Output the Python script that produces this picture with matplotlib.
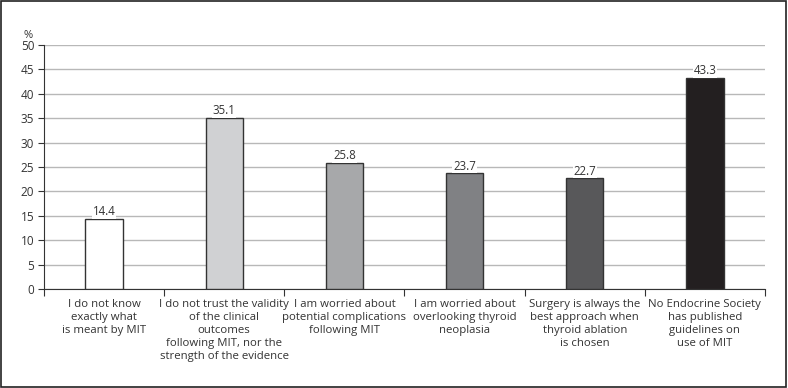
import matplotlib.pyplot as plt
from matplotlib.patches import Rectangle

plt.rcParams['font.family'] = ['Open Sans', 'DejaVu Sans']

categories = [
    'I do not know\nexactly what\nis meant by MIT',
    'I do not trust the validity\nof the clinical\noutcomes\nfollowing MIT, nor the\nstrength of the evidence',
    'I am worried about\npotential complications\nfollowing MIT',
    'I am worried about\noverlooking thyroid\nneoplasia',
    'Surgery is always the\nbest approach when\nthyroid ablation\nis chosen',
    'No Endocrine Society\nhas published\nguidelines on\nuse of MIT',
]
values = [14.4, 35.1, 25.8, 23.7, 22.7, 43.3]
bar_colors = ['#ffffff', '#d0d1d3', '#a7a8aa', '#808184', '#58585a', '#231f20']
yticks = [0, 5, 10, 15, 20, 25, 30, 35, 40, 45, 50]

fig = plt.figure(figsize=(7.88, 3.88), dpi=100)
ax = fig.add_axes([0.0558, 0.255, 0.915, 0.629])

x = list(range(len(values)))
ax.set_axisbelow(True)
ax.yaxis.grid(True, color='#b8b8b8', linewidth=1)
bars = ax.bar(x, values, width=0.31, color=bar_colors, edgecolor='#333333', linewidth=1, zorder=3)

for xi, v in zip(x, values):
    ax.text(xi, v + 0.15, f'{v:.1f}', ha='center', va='bottom', fontsize=8.3, color='#333333',
            bbox=dict(facecolor='white', edgecolor='none', pad=0.5), zorder=4)

ax.set_xlim(-0.5, len(values) - 0.5)
ax.set_ylim(0, 50)
ax.set_yticks(yticks)
ax.tick_params(axis='y', labelsize=8.5, length=4, color='#333333', labelcolor='#333333', pad=3)

# category boundaries as x ticks
ax.set_xticks([i - 0.5 for i in range(len(values) + 1)])
ax.set_xticklabels([])
ax.tick_params(axis='x', length=5, color='#333333', direction='out')
for xi, lab in zip(x, categories):
    ax.text(xi, -2.1, lab, ha='center', va='top', fontsize=8.2, color='#333333', linespacing=1.25)

for s in ['top', 'right']:
    ax.spines[s].set_visible(False)
ax.spines['left'].set_color('#333333')
ax.spines['bottom'].set_color('#333333')

ax.text(-0.63, 50.9, '%', ha='center', va='bottom', fontsize=8, color='#333333')

fig.patches.append(Rectangle((0.001, 0.002), 0.997, 0.995, transform=fig.transFigure,
                             fill=False, edgecolor='#222222', linewidth=1.2))

fig.savefig('out.png', dpi=100)
